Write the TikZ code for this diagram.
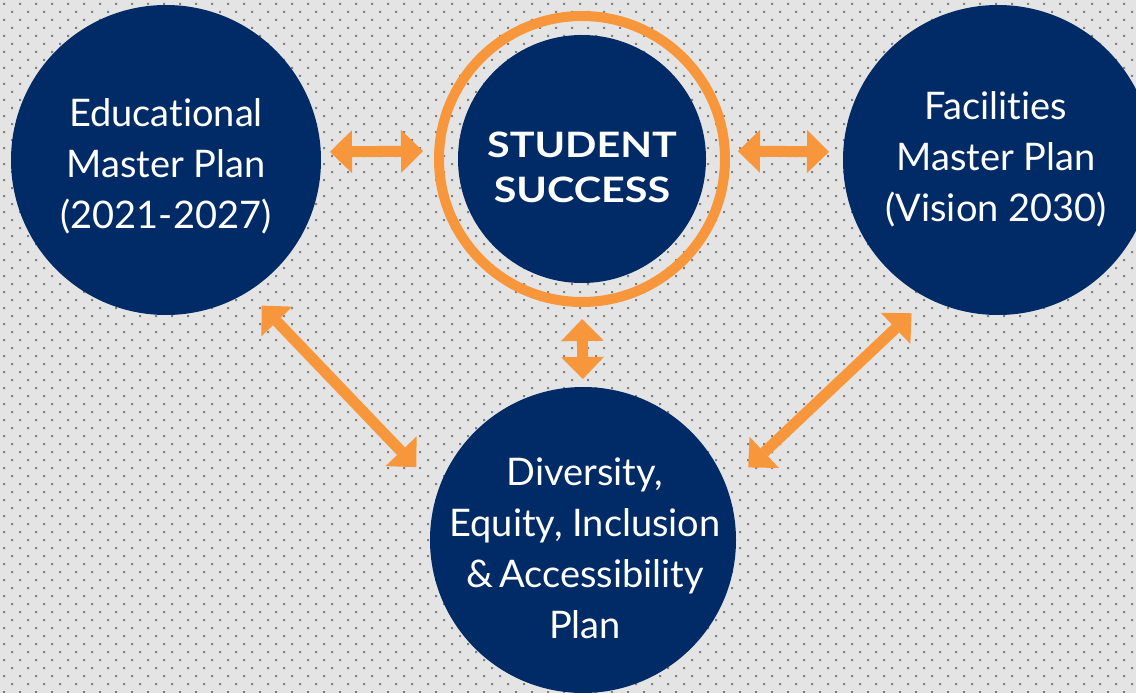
\documentclass[tikz,border=0pt]{standalone}
\usepackage{fontspec}
\setmainfont{Lato}[Ligatures={NoCommon,NoRare}]
\newfontfamily\ssfont{Lato}[FakeStretch=1.18,Ligatures={NoCommon,NoRare}]
\usetikzlibrary{arrows.meta}
\definecolor{navy}{HTML}{012B66}
\definecolor{orng}{HTML}{F7963A}
\definecolor{bgc}{HTML}{E4E4E4}
\definecolor{dotc}{HTML}{808080}
\begin{document}
\begin{tikzpicture}[x=1pt,y=-1pt,
  bubble/.style={circle, fill=navy, draw=none, inner sep=0pt, outer sep=0pt, minimum size=#1},
  btext/.style={text=white, align=center, inner sep=0pt, font=\fontsize{38}{51}\selectfont},
  link/.style={draw=orng, line width=11pt,
    {Triangle[width=43pt,length=22pt,line width=0pt]}-{Triangle[width=43pt,length=22pt,line width=0pt]}},
]
\fill[bgc] (0,0) rectangle (1136,693);
\useasboundingbox (0,0) rectangle (1136,693);
\foreach \j in {0,...,43} {
  \fill[dotc] \foreach \i in {0,...,70} {
    ({3+16*\i},{3+16*\j}) rectangle ++(2,2)
    ({11+16*\i},{11+16*\j}) rectangle ++(2,2)
  };
}
% circles
\node[bubble=310pt] (edu) at (166,160) {};
\node[bubble=310pt] (fac) at (998,160) {};
\node[bubble=306pt] (dei) at (583,540) {};
\node[circle, draw=orng, line width=10pt, inner sep=0pt, minimum size=286pt] (ss) at (582,159) {};
\fill[navy] (ss.center) circle[radius=124pt];
% texts
\node[btext] (edut) at (166,166) {Educational\\Master Plan\\(2021-2027)};
\node[btext] (fact) at (996,159) {Facilities\\Master Plan\\(Vision 2030)};
\node[btext] (deit) at (585,548) {Diversity,\\Equity, Inclusion\\\&\,Accessibility\\Plan};
\node[text=white, align=center, inner sep=0pt, font=\ssfont\bfseries\fontsize{35}{45}\selectfont] (sst) at (582,167) {STUDENT\\SUCCESS};
% connectors
\draw[link, shorten <=9pt, shorten >=11pt] ([yshift=8pt]edu.east) -- ([yshift=8pt]ss.west);
\draw[link, shorten <=8pt, shorten >=14pt] ([yshift=8pt]ss.east) -- ([yshift=8pt]fac.west);
\draw[link, shorten <=12pt, shorten >=8pt] (ss.south) -- (dei.north);
\draw[link, shorten <=19.6pt, shorten >=31.9pt] (edu.-58.3) -- (dei.161.3);
\draw[link, shorten <=22.1pt, shorten >=29.5pt] (fac.-117.3) -- (dei.20.2);
\end{tikzpicture}
\end{document}
